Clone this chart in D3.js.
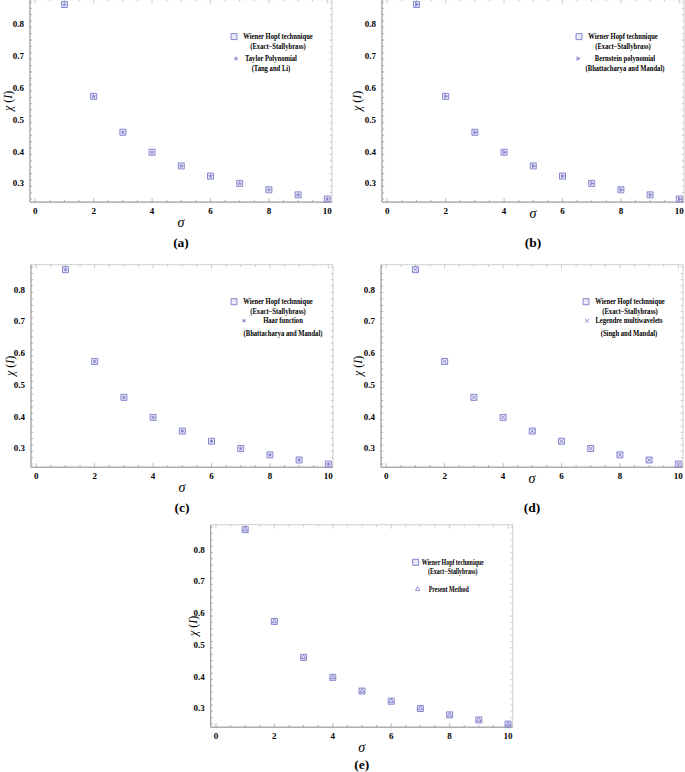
<!DOCTYPE html>
<html>
<head>
<meta charset="utf-8">
<title></title>
<style>
  body { margin: 0; background: #fff; }
  text { font-family: "Liberation Serif", "DejaVu Serif", serif; }
</style>
</head>
<body>
<div id="fig"></div>
<script src="https://cdn.jsdelivr.net/npm/d3@7"></script>
<script>
// data
var sigma = [1, 2, 3, 4, 5, 6, 7, 8, 9, 10];
var exactStallybrass = [0.862, 0.573, 0.460, 0.397, 0.354, 0.322, 0.299, 0.279, 0.263, 0.250];
var taylorTangLi = [0.862, 0.573, 0.460, 0.397, 0.354, 0.322, 0.299, 0.279, 0.263, 0.250];
var bernsteinBM = [0.862, 0.573, 0.460, 0.397, 0.354, 0.322, 0.299, 0.279, 0.263, 0.250];
var haarBM = [0.862, 0.573, 0.460, 0.397, 0.354, 0.322, 0.299, 0.279, 0.263, 0.250];
var legendreSM = [0.862, 0.573, 0.460, 0.397, 0.354, 0.322, 0.299, 0.279, 0.263, 0.250];
var presentMethod = [0.862, 0.573, 0.460, 0.397, 0.354, 0.322, 0.299, 0.279, 0.263, 0.250];
var xTicks = [0, 2, 4, 6, 8, 10];
var yTicks = [0.3, 0.4, 0.5, 0.6, 0.7, 0.8];
var exactLabel = ["Wiener Hopf technnique", "(Exact\u2212Stallybrass)"];

var W = 685, H = 772;
var fw = 302, fh = 202.5;
var markColor = "#7474c8";

var svg = d3.select('#fig').append('svg').attr('width', W).attr('height', H);

var panels = [
  { x: 30, y: -0.4, tag: "(a)", values: taylorTangLi, mark: "star", fs: 7.6, sq: 0.87, tagY: fh + 45,
    names: ["Taylor Polynomial", "(Tang and Li)"], m1: [204, 37], t1: 248, m2: [206, 59], t2: 241, l2: [59, 69], ylx: -18, sy: fh + 25 },
  { x: 382, y: -0.4, tag: "(b)", values: bernsteinBM, mark: "tri", fs: 7.6, sq: 0.87, tagY: fh + 45,
    names: ["Bernstein polynomial", "(Bhattacharya and Mandal)"], m1: [197, 37], t1: 241, m2: [196, 59], t2: 243, l2: [59, 69], ylx: -21, sy: fh + 16 },
  { x: 31, y: 264.7, tag: "(c)", values: haarBM, mark: "ast", fs: 7.6, sq: 0.87, tagY: fh + 45,
    names: ["Haar function", "(Bhattacharya and Mandal)"], m1: [203, 37], t1: 247, m2: [213, 56], t2: 252, l2: [56, 68.6], ylx: -17, sy: fh + 25 },
  { x: 381, y: 264.7, tag: "(d)", values: legendreSM, mark: "times", fs: 7.6, sq: 0.87, tagY: fh + 45,
    names: ["Legendre multiwavelets", "(Singh and Mandal)"], m1: [205, 37], t1: 249, m2: [206, 56], t2: 248, l2: [56, 68.6], ylx: -19, sy: fh + 16 },
  { x: 210.7, y: 524.7, tag: "(e)", values: presentMethod, mark: "caret", fs: 7.2, sq: 0.82, tagY: fh + 42,
    names: ["Present Method"], m1: [205, 37.6], t1: 242, m2: [207, 64.6], t2: 238, l2: [64.6], ylx: -14, sy: fh + 25 }
];

function secondSymbol(kind) {
  if (kind == "star") return d3.symbol(d3.symbolStar, 9)();
  if (kind == "tri") return d3.symbol(d3.symbolTriangle, 10)();
  if (kind == "ast") return d3.symbol(d3.symbolAsterisk, 10)();
  if (kind == "times") return d3.symbol(d3.symbolTimes, 12)();
  return d3.symbol(d3.symbolTriangle2, 14)();
}

function drawSecond(g, kind, px, py) {
  var p = g.append('path').attr('d', secondSymbol(kind))
    .attr('transform', 'translate(' + px + ',' + py + ')' + (kind == "tri" ? ' rotate(90)' : ''));
  if (kind == "star" || kind == "tri") {
    p.attr('fill', markColor).attr('fill-opacity', 0.8).attr('stroke', 'none');
  } else {
    p.attr('fill', 'none').attr('stroke', markColor).attr('stroke-width', 0.8);
  }
}

function drawSquare(g, px, py) {
  g.append('path').attr('d', d3.symbol(d3.symbolSquare, 36)())
    .attr('transform', 'translate(' + px + ',' + py + ')')
    .attr('fill', '#c8c8ec').attr('fill-opacity', 0.4)
    .attr('stroke', markColor).attr('stroke-width', 0.85);
}

// legend line, squeezed horizontally like the narrow bold face of the original
function legendText(g, cx, cy, txt, fs, sq) {
  var t = g.append('text').attr('x', cx).attr('y', cy)
    .attr('text-anchor', 'middle').attr('font-size', fs).attr('font-weight', 'bold').text(txt);
  var w = t.node().getComputedTextLength();
  t.attr('textLength', w * sq).attr('lengthAdjust', 'spacingAndGlyphs');
}

panels.forEach(function(p) {
  var g = svg.append('g').attr('transform', 'translate(' + p.x + ',' + p.y + ')');
  var x = d3.scaleLinear().domain([-0.18, 10.16]).range([0, fw]);
  var y = d3.scaleLinear().domain([0.2402, 0.8775]).range([fh, 0]);

  var xMinor = d3.range(0, 10.01, 0.5);
  var yMinor = d3.range(0.25, 0.8701, 0.02);

  // frame
  g.append('rect').attr('x', 0).attr('y', 0).attr('width', fw).attr('height', fh)
    .attr('fill', 'none').attr('stroke', '#cfcfcf').attr('stroke-width', 1);
  g.append('line').attr('x1', 0).attr('x2', fw).attr('y1', fh).attr('y2', fh).attr('stroke', '#9a9a9a');
  g.append('line').attr('x1', 0).attr('x2', 0).attr('y1', 0).attr('y2', fh).attr('stroke', '#9a9a9a');

  // ticks on all sides, pointing in
  xMinor.forEach(function(v) {
    var major = xTicks.indexOf(v) >= 0, len = major ? 4 : 2.2;
    g.append('line').attr('x1', x(v)).attr('x2', x(v)).attr('y1', fh).attr('y2', fh - len).attr('stroke', '#8a8a8a').attr('stroke-width', 0.6);
    g.append('line').attr('x1', x(v)).attr('x2', x(v)).attr('y1', 0).attr('y2', len).attr('stroke', '#aaa').attr('stroke-width', 0.6);
  });
  yMinor.forEach(function(v) {
    var major = yTicks.some(function(t) { return Math.abs(t - v) < 1e-6; }), len = major ? 4 : 2.2;
    g.append('line').attr('x1', 0).attr('x2', len).attr('y1', y(v)).attr('y2', y(v)).attr('stroke', '#8a8a8a').attr('stroke-width', 0.6);
    g.append('line').attr('x1', fw).attr('x2', fw - len).attr('y1', y(v)).attr('y2', y(v)).attr('stroke', '#aaa').attr('stroke-width', 0.6);
  });

  // tick labels
  g.selectAll('.xl').data(xTicks).enter().append('text')
    .attr('x', function(d) { return x(d); }).attr('y', fh + 12)
    .attr('text-anchor', 'middle').attr('font-size', 9).attr('font-weight', 'bold')
    .text(function(d) { return d; });
  g.selectAll('.yl').data(yTicks).enter().append('text')
    .attr('x', -6).attr('y', function(d) { return y(d) + 3.2; })
    .attr('text-anchor', 'end').attr('font-size', 9).attr('font-weight', 'bold')
    .text(function(d) { return d.toFixed(1); });

  // axis labels
  var yl = g.append('text').attr('transform', 'translate(' + p.ylx + ',' + (fh / 2) + ') rotate(-90)')
    .attr('text-anchor', 'middle').attr('font-size', 12).attr('font-style', 'italic');
  yl.append('tspan').text('\u03c7 ');
  yl.append('tspan').attr('font-style', 'normal').text('(');
  yl.append('tspan').text('I');
  yl.append('tspan').attr('font-style', 'normal').text(')');
  g.append('text').attr('x', fw / 2).attr('y', p.sy)
    .attr('text-anchor', 'middle').attr('font-size', 14).attr('font-style', 'italic').text('\u03c3');
  g.append('text').attr('x', fw / 2).attr('y', p.tagY)
    .attr('text-anchor', 'middle').attr('font-size', 13.5).attr('font-weight', 'bold').text(p.tag);

  // points
  sigma.forEach(function(s, i) {
    drawSquare(g, x(s), y(exactStallybrass[i]));
    drawSecond(g, p.mark, x(s), y(p.values[i]));
  });

  // legend
  drawSquare(g, p.m1[0], p.m1[1]);
  exactLabel.forEach(function(t, i) {
    legendText(g, p.t1, p.m1[1] + 2.6 + i * 9.4, t, p.fs, p.sq);
  });
  drawSecond(g, p.mark, p.m2[0], p.m2[1]);
  p.names.forEach(function(t, i) {
    legendText(g, p.t2, p.l2[i] + 2.6, t, p.fs, p.sq);
  });
});
</script>
</body>
</html>
